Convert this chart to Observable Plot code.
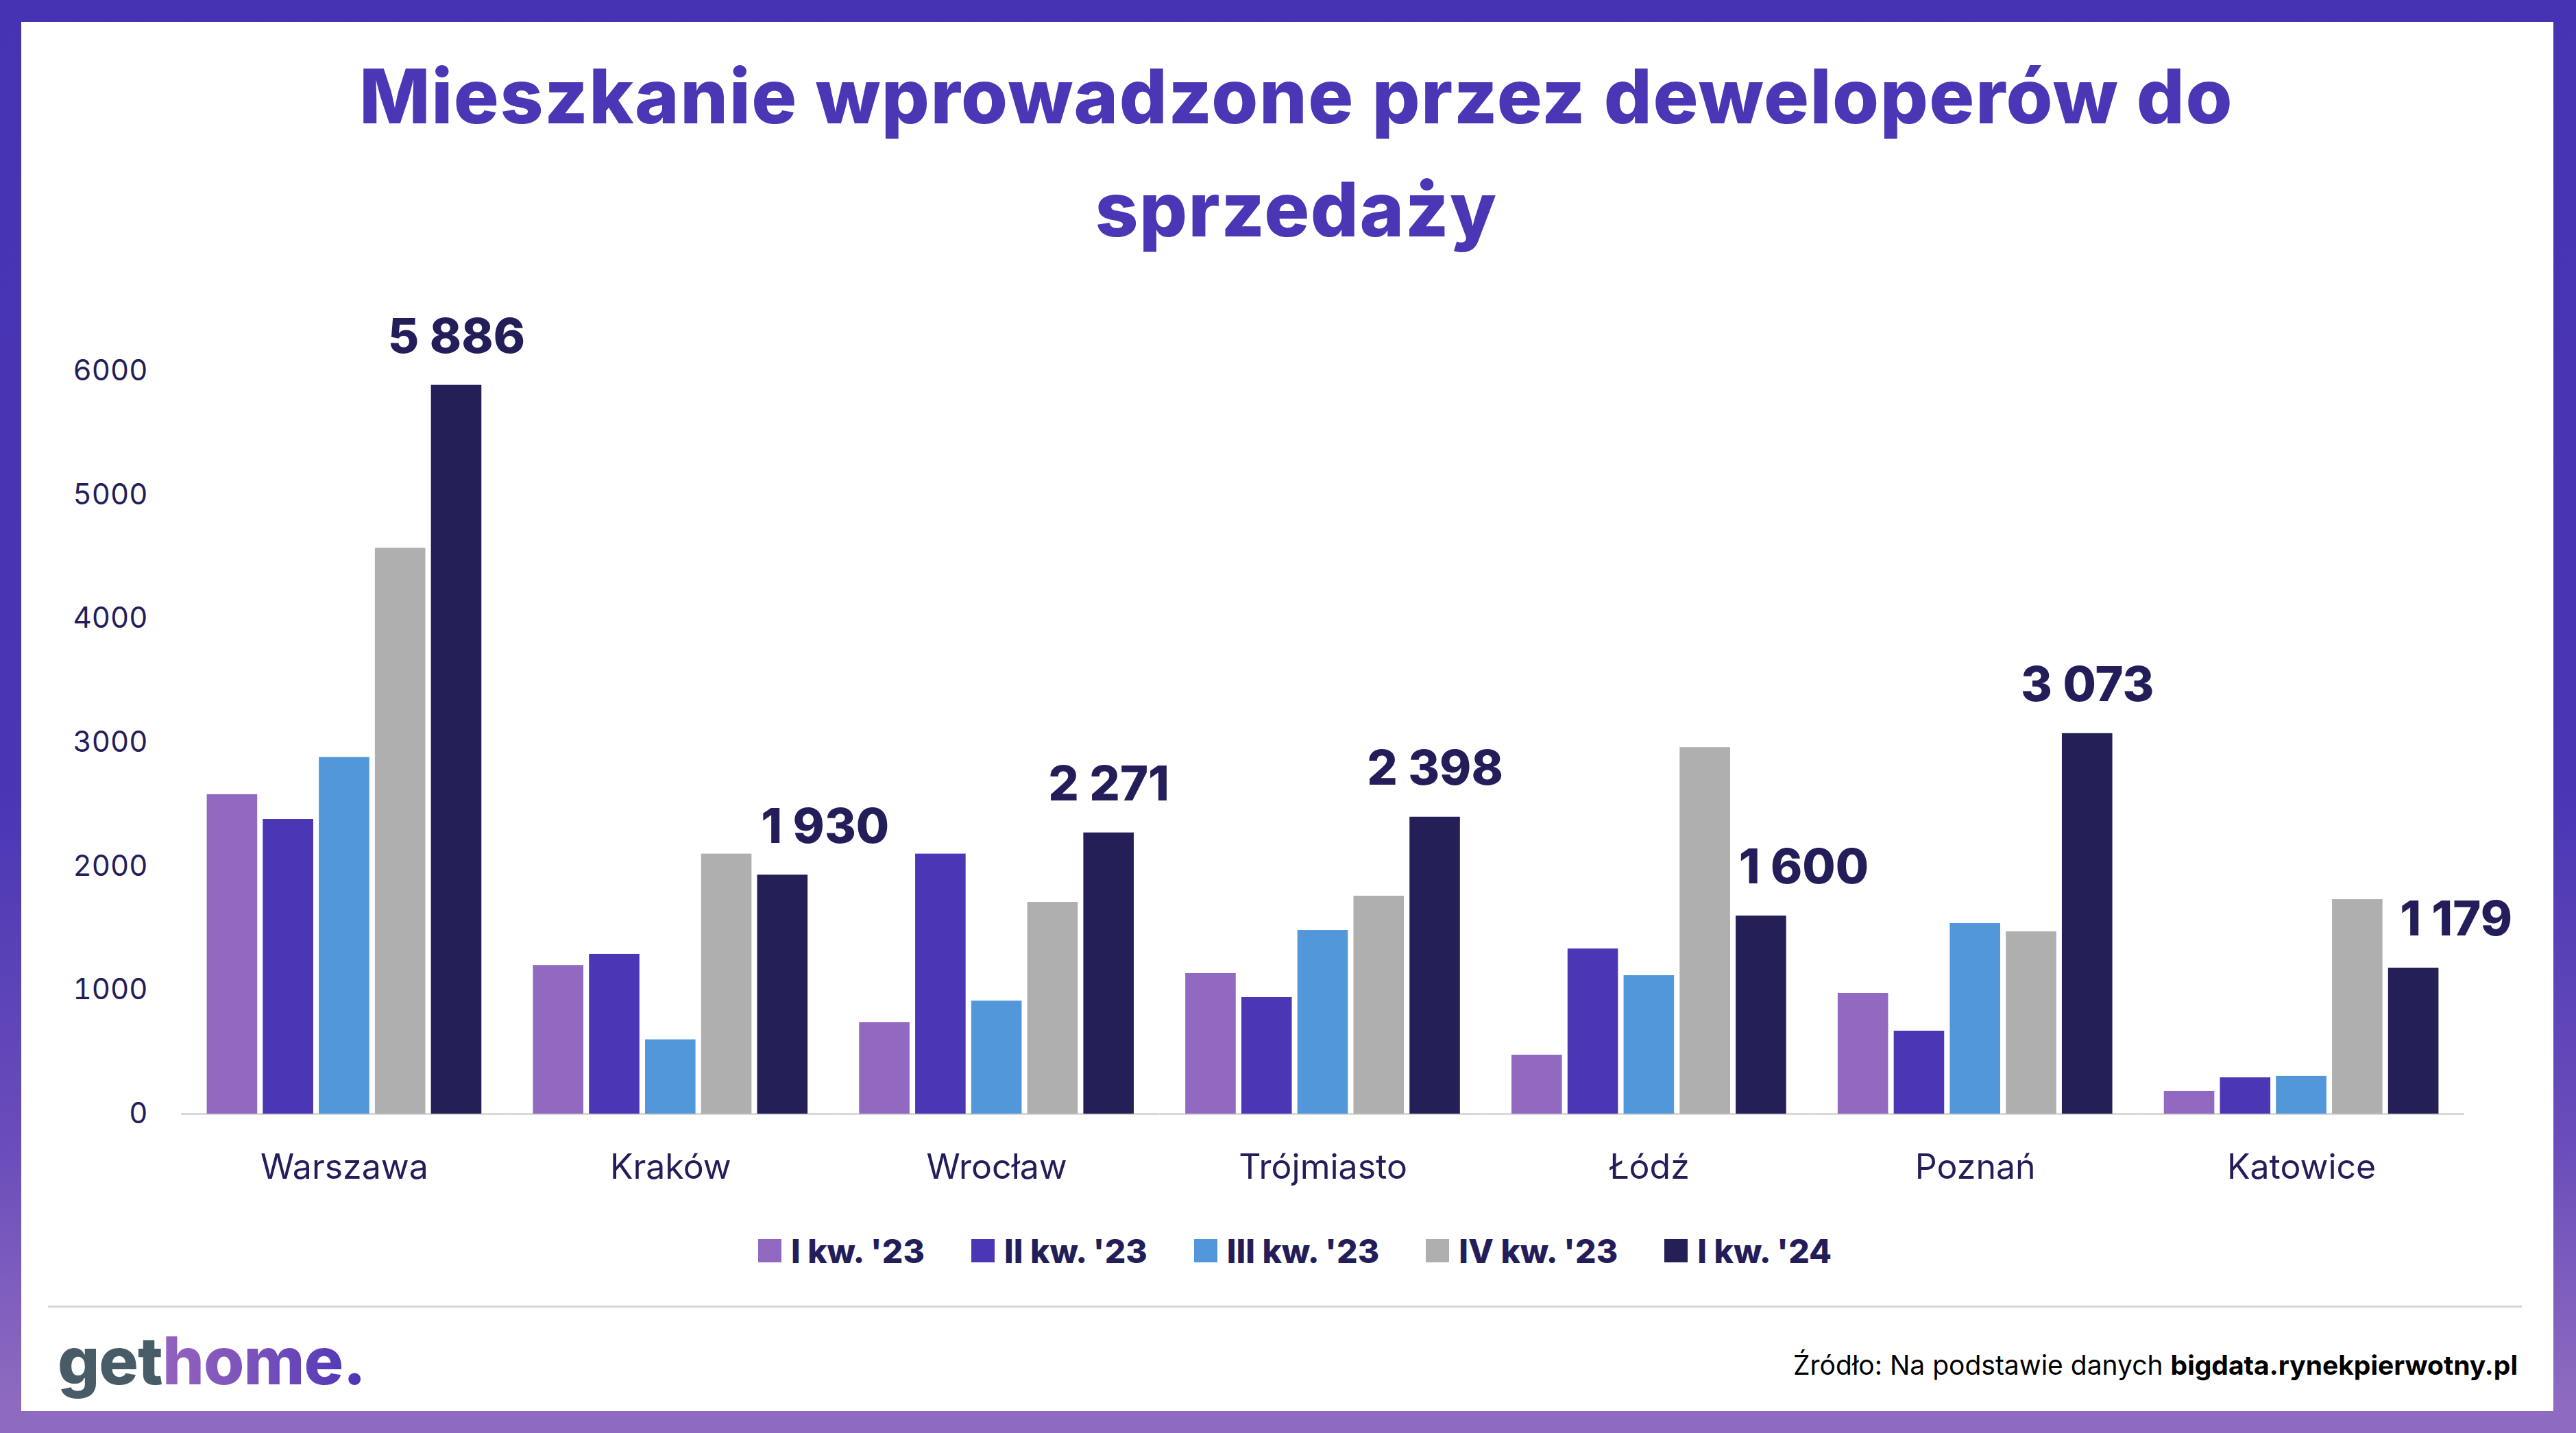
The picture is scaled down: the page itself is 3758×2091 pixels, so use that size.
<!DOCTYPE html>
<html>
<head>
<meta charset="utf-8">
<script src="https://cdn.jsdelivr.net/npm/d3@7"></script>
<script src="https://cdn.jsdelivr.net/npm/@observablehq/plot@0.6"></script>
<style>
  html, body { margin: 0; padding: 0; }
  body {
    width: 3758px; height: 2091px; position: relative; overflow: hidden;
    background: linear-gradient(180deg, #4633b3 0%, #4a36b4 55%, #6a4dbb 80%, #8e6bc0 98%, #8e6bc0 100%);
    font-family: Inter, "Open Sans", sans-serif;
  }
  #panel { position: absolute; left: 31px; top: 32px; width: 3694px; height: 2027px; background: #ffffff; }
  #title {
    position: absolute; left: 0; width: 3782px; top: 58px; margin: 0;
    text-align: center; color: #4b36b5; font-weight: 800; font-size: 110px; line-height: 165px;
    letter-spacing: 1.5px;
  }
  #chart { position: absolute; left: 0; top: 430px; }
  #legend { position: absolute; left: 0; width: 3778px; top: 1791px; display: flex; justify-content: center; }
  #legend .lg-swatches { margin: 0; font-family: Inter, sans-serif; font-size: 48px; font-weight: 800; color: #231e5a; min-height: 68px; }
  #legend .lg-swatches .lg-swatch { margin-right: 68px; }
  #legend .lg-swatches .lg-swatch:last-child { margin-right: 0; }
  #legend .lg-swatch > svg { margin-right: 14px; }
  #sep { position: absolute; left: 70px; width: 3609px; top: 1905px; height: 3px; background: #d6d6d6; }
  #logo {
    position: absolute; left: 84px; top: 1925px; font-weight: 800; font-size: 96px; line-height: 120px;
    letter-spacing: -1px; white-space: nowrap;
  }
  #logo .get { color: #485c68; }
  #logo .home {
    background: linear-gradient(90deg, #9462be 0%, #7a52bb 45%, #4a33b5 100%);
    -webkit-background-clip: text; background-clip: text; color: transparent;
  }
  #source {
    position: absolute; right: 85px; top: 1967px; font-size: 39px; line-height: 50px; color: #000; white-space: nowrap;
  }
  #source b { font-weight: 700; }
</style>
</head>
<body>
<div id="panel"></div>
<h1 id="title">Mieszkanie wprowadzone przez deweloperów do<br>sprzedaży</h1>
<div id="chart"></div>
<div id="legend"></div>
<div id="sep"></div>
<div id="logo"><span class="get">get</span><span class="home">home.</span></div>
<div id="source">Źródło: Na podstawie danych <b>bigdata.rynekpierwotny.pl</b></div>
<script>
// ---- data ----
const cities = ["Warszawa", "Kraków", "Wrocław", "Trójmiasto", "Łódź", "Poznań", "Katowice"];
const quarters = ["I kw. '23", "II kw. '23", "III kw. '23", "IV kw. '23", "I kw. '24"];
const q1_23 = [2580, 1200, 740, 1135, 476, 974, 183];
const q2_23 = [2380, 1290, 2100, 941, 1334, 670, 293];
const q3_23 = [2880, 600, 913, 1483, 1118, 1539, 305];
const q4_23 = [4570, 2100, 1710, 1760, 2960, 1472, 1732];
const q1_24 = [5886, 1930, 2271, 2398, 1600, 3073, 1179];
const yTicks = [0, 1000, 2000, 3000, 4000, 5000, 6000];
const colors = ["#9169c1", "#4b37b5", "#5297da", "#afafaf", "#241f57"];

const series = [q1_23, q2_23, q3_23, q4_23, q1_24];
const rows = [];
cities.forEach((city, i) => series.forEach((s, j) => rows.push({city, quarter: quarters[j], value: s[i]})));
const lastQ = quarters[quarters.length - 1];
const prevQ = quarters[quarters.length - 2];
const labelRows = rows.filter(d => d.quarter === lastQ).map(d => {
  const prev = rows.find(r => r.city === d.city && r.quarter === prevQ);
  return {...d, shifted: prev.value > d.value};
});

const fmt = d3.formatLocale({decimal: ",", thousands: "\u00a0", grouping: [3], currency: ["", ""]}).format(",d");

const W = 3758, H = 1330, mL = 264, mR = 163;
const fxPadInner = 0.158, fxPadOuter = 0.079;
const step = (W - mL - mR) / (cities.length - fxPadInner + 2 * fxPadOuter);
const halfGap = step * fxPadInner / 2;
const outerPad = step * fxPadOuter;

const ink = "#231e5a";
const chart = Plot.plot({
  width: W, height: H,
  marginTop: 111, marginBottom: 135, marginLeft: mL, marginRight: mR,
  facet: {marginTop: 0, marginRight: 0, marginBottom: 0, marginLeft: 0},
  style: {fontFamily: "Inter, sans-serif", color: ink, background: "transparent", overflow: "visible"},
  fx: {domain: cities, paddingInner: fxPadInner, paddingOuter: fxPadOuter, round: false, label: null},
  x: {domain: quarters, paddingInner: 0.1, paddingOuter: 0, round: false, axis: null},
  y: {domain: [0, 6000]},
  color: {domain: quarters, range: colors},
  marks: [
    Plot.ruleY([0], {stroke: "#d9d9d9", strokeWidth: 3, insetLeft: -halfGap, insetRight: -halfGap}),
    Plot.barY(rows, {fx: "city", x: "quarter", y: "value", fill: "quarter"}),
    Plot.text(labelRows.filter(d => !d.shifted), {fx: "city", x: "quarter", y: "value", text: d => fmt(d.value),
      dy: -47, lineAnchor: "bottom", fontSize: 70, fontWeight: 800, fill: ink}),
    Plot.text(labelRows.filter(d => d.shifted), {fx: "city", x: "quarter", y: "value", text: d => fmt(d.value),
      dy: -47, dx: 62, lineAnchor: "bottom", fontSize: 70, fontWeight: 800, fill: ink}),
    Plot.axisY({ticks: yTicks, tickSize: 0, tickPadding: 9, dx: -(outerPad + 40), tickFormat: d3.format("d"), fontSize: 42, fill: ink, label: null}),
    Plot.axisFx({anchor: "bottom", tickSize: 0, tickPadding: 59, fontSize: 50, fill: ink, label: null})
  ]
});
document.getElementById("chart").appendChild(chart);

const legend = Plot.legend({
  color: {type: "ordinal", domain: quarters, range: colors},
  swatchSize: 34,
  className: "lg"
});
document.getElementById("legend").appendChild(legend);
</script>
</body>
</html>
